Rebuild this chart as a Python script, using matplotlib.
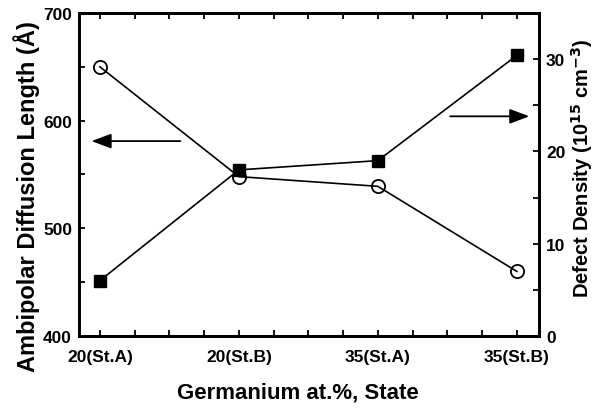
import matplotlib.pyplot as plt
from matplotlib.ticker import MultipleLocator

plt.rcParams['font.family'] = ['Liberation Sans', 'DejaVu Sans']
plt.rcParams['font.weight'] = 'bold'

states = ['20(St.A)', '20(St.B)', '35(St.A)', '35(St.B)']
diff_length = [650, 548, 539, 460]      # Angstrom, left axis
defect_density = [6.0, 18.0, 19.0, 30.4]  # 1e15 cm^-3, right axis

x = list(range(len(states)))

fig = plt.figure(figsize=(5.95, 4.10), dpi=100)
ax = fig.add_axes([0.1328, 0.178, 0.7732, 0.788])
ax2 = ax.twinx()

ax.plot(x, diff_length, '-', color='black', lw=1.2,
        marker='o', ms=9.5, mfc='none', mec='black', mew=1.3)
ax2.plot(x, defect_density, '-', color='black', lw=1.2,
         marker='s', ms=8.5, mfc='black', mec='black')

ax.set_xlim(-0.15, 3.16)
ax.set_ylim(400, 700)
ax2.set_ylim(0, 35)

ax.set_xticks(x)
ax.set_xticklabels(states)
ax.xaxis.set_minor_locator(MultipleLocator(0.25))
ax.yaxis.set_major_locator(MultipleLocator(100))
ax.yaxis.set_minor_locator(MultipleLocator(50))
ax2.yaxis.set_major_locator(MultipleLocator(10))
ax2.yaxis.set_minor_locator(MultipleLocator(5))

for a in (ax, ax2):
    for s in a.spines.values():
        s.set_linewidth(2.0)
ax.tick_params(axis='x', which='both', direction='in', top=True, bottom=True,
               length=4, width=1.3, labelsize=12.5, pad=9)
ax.tick_params(axis='y', which='both', direction='in', left=True, right=False,
               length=4, width=1.3, labelsize=12.5, pad=5)
ax2.tick_params(axis='y', which='both', direction='in', length=4, width=1.3,
                labelsize=12.5, pad=5)

for lab in ax.get_xticklabels() + ax.get_yticklabels() + ax2.get_yticklabels():
    lab.set_fontweight('bold')

fig.text(0.5, 0.041, 'Germanium at.%, State', ha='center', va='center',
         fontsize=16, fontweight='bold')
fig.text(0.045, 0.52, 'Ambipolar Diffusion Length (\u00c5)', rotation=90,
         ha='center', va='center', fontsize=17, fontweight='bold')
fig.text(0.978, 0.59, 'Defect Density (10$^{15}$ cm$^{-3}$)', rotation=90,
         ha='center', va='center', fontsize=14.5, fontweight='bold')

# arrows pointing to the axis each series belongs to
ax.annotate('', xy=(-0.08, 581), xytext=(0.6, 581),
            arrowprops=dict(arrowstyle='-|>,head_length=1.2,head_width=0.45',
                            mutation_scale=10, lw=1.3, color='black'))
ax2.annotate('', xy=(3.11, 23.8), xytext=(2.5, 23.8),
             arrowprops=dict(arrowstyle='-|>,head_length=1.2,head_width=0.45',
                             mutation_scale=10, lw=1.3, color='black'))

fig.savefig('out.png', dpi=100)
